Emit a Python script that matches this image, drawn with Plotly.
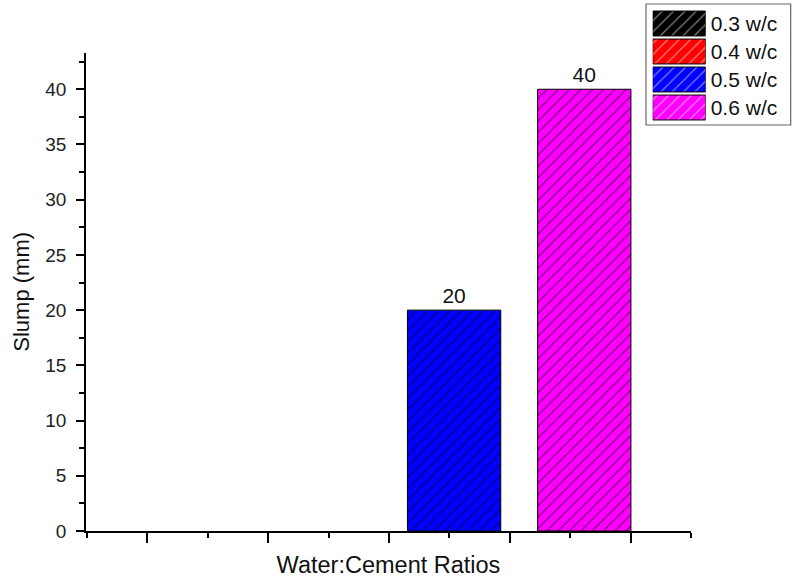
import plotly.graph_objects as go

# ---- data ----
categories = ["0.3 w/c", "0.4 w/c", "0.5 w/c", "0.6 w/c"]
slump_mm = [0, 0, 20, 40]
colors = ["#000000", "#ff0000", "#0000ff", "#ff00ff"]

W, H = 793, 579
FONT = "Liberation Sans, Arial, sans-serif"

def px_x(p):
    return p / W

def px_y(p):
    return (H - p) / H

HATCH = dict(shape="/", fgcolor="black", fillmode="overlay", size=8, solidity=0.15)

fig = go.Figure()

# main bars (one trace per series, grouped around a single category)
for name, val, col in zip(categories, slump_mm, colors):
    fig.add_trace(go.Bar(
        x=[0], y=[val], name=name,
        marker=dict(color=col, line=dict(color="black", width=1 if val else 0),
                    pattern=HATCH),
        text=[str(val) if val else ""], textposition="outside",
        textfont=dict(size=21, color="#111", family=FONT),
        cliponaxis=False, showlegend=False,
        xaxis="x", yaxis="y",
    ))

# custom legend: swatches drawn as horizontal bars on a small inset axis
fig.add_trace(go.Bar(
    y=categories, x=[1] * len(categories), orientation="h", width=0.89,
    marker=dict(color=colors, line=dict(color="black", width=1), pattern=HATCH),
    showlegend=False, hoverinfo="skip",
    xaxis="x2", yaxis="y2",
))

fig.update_layout(
    template="none",
    width=W, height=H,
    margin=dict(l=0, r=0, t=0, b=0, pad=0),
    paper_bgcolor="white", plot_bgcolor="white",
    font=dict(family=FONT, color="#111"),
    barmode="group", bargap=0, bargroupgap=0.283,
    showlegend=False,
    xaxis=dict(
        domain=[px_x(86), px_x(691)],
        range=[-0.582, 0.580],
        tick0=0, dtick=0.232,
        ticks="outside", ticklen=10, tickwidth=1.5, tickcolor="black",
        minor=dict(dtick=0.116, tick0=0, ticks="outside", ticklen=5, tickwidth=1.5, tickcolor="black"),
        showticklabels=False,
        showline=True, linecolor="black", linewidth=1.5,
        showgrid=False, zeroline=False, automargin=False,
        title=dict(text="Water:Cement Ratios", font=dict(size=23.5, family=FONT, color="#111"), standoff=15),
        anchor="y",
    ),
    yaxis=dict(
        domain=[px_y(531), px_y(52.7)],
        range=[0, 43.31],
        tick0=0, dtick=5,
        ticks="outside", ticklen=8, tickwidth=1.5, tickcolor="black",
        minor=dict(dtick=2.5, ticks="outside", ticklen=5, tickwidth=1.5, tickcolor="black"),
        tickfont=dict(size=19, family=FONT, color="#222"),
        ticklabelstandoff=6,
        showline=True, linecolor="black", linewidth=1.5,
        showgrid=False, zeroline=False, automargin=False,
        title=dict(text="Slump (mm)", font=dict(size=22, family=FONT, color="#111"), standoff=10),
        anchor="x",
    ),
    xaxis2=dict(
        domain=[px_x(652.7), px_x(705.7)],
        range=[0, 1], visible=False, anchor="y2", fixedrange=True, automargin=False,
    ),
    yaxis2=dict(
        domain=[px_y(121.5), px_y(9.5)],
        type="category", categoryorder="array", categoryarray=categories,
        autorange="reversed",
        side="right", anchor="x2",
        showline=False, showgrid=False, zeroline=False, ticks="",
        ticklabelstandoff=4, automargin=False,
        tickfont=dict(size=21, family=FONT, color="#111"),
        fixedrange=True,
    ),
    shapes=[dict(
        type="rect", xref="paper", yref="paper",
        x0=px_x(646), x1=px_x(790.7), y0=px_y(125), y1=px_y(4),
        line=dict(color="#666", width=1.2), fillcolor="rgba(0,0,0,0)", layer="below",
    )],
)

fig.write_html("out.html", post_script="document.body.style.margin='0';",
               config={"displayModeBar": False})
